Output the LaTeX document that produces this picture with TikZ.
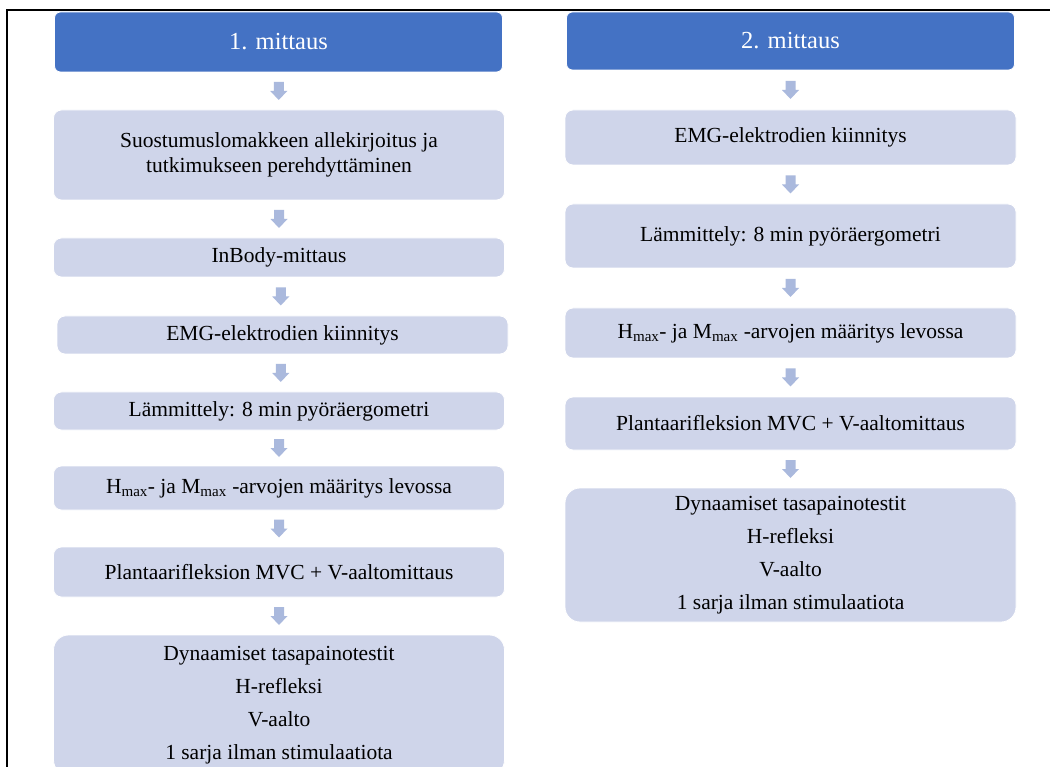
\documentclass[tikz,border=0pt]{standalone}
\usepackage{fontspec}
\setmainfont{Liberation Serif}
\usetikzlibrary{calc}
\definecolor{headblue}{RGB}{68,114,196}
\definecolor{steplav}{RGB}{207,213,234}
\definecolor{arrowlav}{RGB}{170,185,221}

\begin{document}
\begin{tikzpicture}[x=1pt, y=-1pt,
  head/.style={fill=headblue, draw=white, line width=0.8pt, rounded corners=6pt, text=white, font=\fontsize{24.5}{28}\selectfont, minimum width=448pt, inner sep=0pt},
  stepbox/.style={fill=steplav, draw=white, line width=0.8pt, rounded corners=8pt, font=\fontsize{21.5}{25}\selectfont, minimum width=451pt, align=center, inner sep=0pt},
  listbox/.style={stepbox, rounded corners=15pt, font=\fontsize{21.5}{33}\selectfont},
  flowarrow/.style={fill=arrowlav}]
  \clip (0,0) rectangle (1050,767);
  \fill[white] (0,0) rectangle (1050,767);
  \draw[line width=1.6pt] (7,780) -- (7,10) -- (1060,10);

  \node[head, minimum height=60pt] (h1) at (278.5,42) {1. mittaus};
  \node[stepbox, minimum height=90pt] (a1) at (279,155) {Suostumuslomakkeen allekirjoitus ja\\ tutkimukseen perehdyttäminen};
  \node[stepbox, minimum height=39pt] (a2) at (279,257.5) {InBody-mittaus};
  \node[stepbox, minimum height=38pt] (a3) at (282.5,335) {EMG-elektrodien kiinnitys};
  \node[stepbox, minimum height=38pt] (a4) at (279,411) {Lämmittely: 8 min pyöräergometri};
  \node[stepbox, minimum height=44pt] (a5) at (279,488) {H\textsubscript{max}- ja M\textsubscript{max} -arvojen määritys levossa};
  \node[stepbox, minimum height=50pt] (a6) at (279,572) {Plantaarifleksion MVC + V-aaltomittaus};
  \node[listbox, minimum height=140pt] (a7) at (279,705) {Dynaamiset tasapainotestit\\ H-refleksi\\ V-aalto\\ 1 sarja ilman stimulaatiota};

  \node[head, minimum height=58pt] (h2) at (790.5,41) {2. mittaus};
  \node[stepbox, minimum height=55pt] (b1) at (790.5,137.5) {EMG-elektrodien kiinnitys};
  \node[stepbox, minimum height=64pt] (b2) at (790.5,236) {Lämmittely: 8 min pyöräergometri};
  \node[stepbox, minimum height=50pt] (b3) at (790.5,333) {H\textsubscript{max}- ja M\textsubscript{max} -arvojen määritys levossa};
  \node[stepbox, minimum height=53pt] (b4) at (790.5,423.5) {Plantaarifleksion MVC + V-aaltomittaus};
  \node[listbox, minimum height=134pt] (b5) at (790.5,555) {Dynaamiset tasapainotestit\\ H-refleksi\\ V-aalto\\ 1 sarja ilman stimulaatiota};

  \foreach \p/\q in {h1/a1, a1/a2, a2/a3, a3/a4, a4/a5, a5/a6, a6/a7, h2/b1, b1/b2, b2/b3, b3/b4, b4/b5} {
    \coordinate (m) at ($(\p.south)!0.5!(\q.north)$);
    \fill[flowarrow, shift={(m)}] (-5,-9) -- (5,-9) -- (5,0) -- (8.5,0) -- (0,9) -- (-8.5,0) -- (-5,0) -- cycle;
  }
\end{tikzpicture}
\end{document}
